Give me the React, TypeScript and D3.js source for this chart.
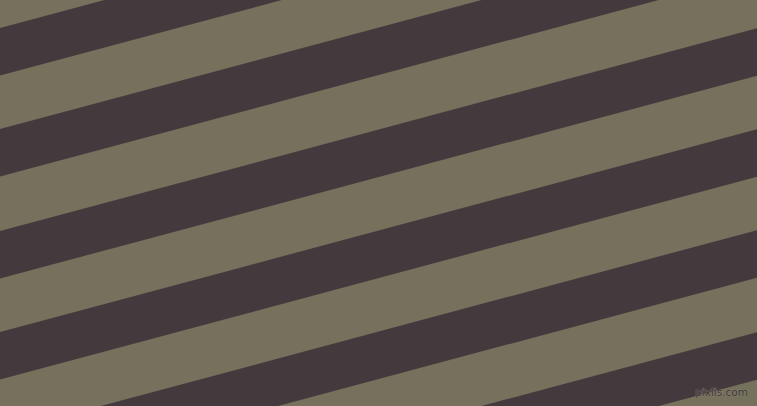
import * as d3 from "d3";

const W = 757, H = 406;

// y of each dark stripe's upper edge where it meets the left border (x = 0)
const stripeStarts = [28, 129, 231, 332, 433, 535];
const stripeThickness = 47.5; // vertical thickness
const angleDeg = 15;

const BG = "#76715c";
const DARK = "#443a3e";

export default function App() {
  const x = d3.scaleLinear([0, 1], [0, W]);
  const tilt = Math.tan((angleDeg * Math.PI) / 180);

  const band = (y0: number) => {
    const p = d3.path();
    p.moveTo(x(0), y0);
    p.lineTo(x(1), y0 - W * tilt);
    p.lineTo(x(1), y0 + stripeThickness - W * tilt);
    p.lineTo(x(0), y0 + stripeThickness);
    p.closePath();
    return p.toString();
  };

  return (
    <div style={{ position: "fixed", left: 0, top: 0, width: W, height: H }}>
      <svg width={W} height={H} style={{ display: "block" }}>
        <rect width={W} height={H} fill={BG} />
        {stripeStarts.map((y0) => (
          <path key={y0} d={band(y0)} fill={DARK} />
        ))}
        {/* watermark */}
        <text x={W - 9} y={396} textAnchor="end" fontSize="10.5"
          fontFamily="DejaVu Sans, sans-serif" fill="#3c3537"
          stroke="#8c8774" strokeWidth="0.7" paintOrder="stroke">
          pixlis.com
        </text>
      </svg>
    </div>
  );
}
